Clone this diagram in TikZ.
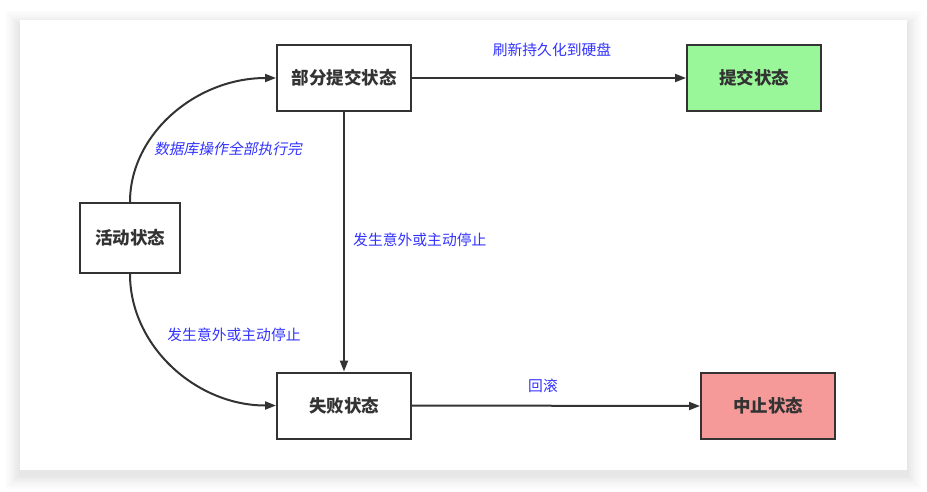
\documentclass[tikz,border=0pt]{standalone}
\usepackage{fontspec}
\setmainfont{Noto Sans CJK SC}
\newfontfamily\cjkit[FakeSlant=0.2]{Noto Sans CJK SC}
\usetikzlibrary{arrows.meta}
\definecolor{lineg}{HTML}{333333}
\definecolor{lblue}{HTML}{3333FF}
\definecolor{okgreen}{HTML}{99F799}
\definecolor{badred}{HTML}{F59999}
\tikzset{
  state/.style={draw=lineg, line width=2pt, minimum width=134pt, minimum height=66pt, inner sep=0pt,
    font=\fontsize{17.5}{19}\selectfont\bfseries, text=lineg},
  conn/.style={draw=lineg, line width=2pt, -{Triangle[length=11pt,width=8pt]}},
  lbl/.style={font=\fontsize{14.8}{16}\selectfont, text=lblue, inner sep=0pt}
}
\begin{document}
\begin{tikzpicture}[x=1pt,y=-1pt]
\useasboundingbox (0,0) rectangle (927,491);
\fill[white] (0,0) rectangle (927,491);
% card shadow
\foreach \d in {14,11,8,6,4,2}{
  \fill[black, opacity=0.014] (20-\d,20-\d+5) rectangle (907+\d,470+\d+5);
}
\fill[white] (20,20) rectangle (907,470);

\node[state] (partial) at (344,78) {部分提交状态};
\node[state, fill=okgreen] (commit) at (754,78) {提交状态};
\node[state, minimum width=100pt, minimum height=70pt] (active) at (130,238) {活动状态};
\node[state] (fail) at (344,405.5) {失败状态};
\node[state, fill=badred] (abort) at (768,406) {中止状态};

\draw[conn] (active.north) .. controls (130,134) and (196,78) .. (partial.west);
\draw[conn] (active.south) .. controls (130,346) and (196,405.5) .. (fail.west);
\draw[conn] (partial.south) -- (fail.north);
\draw[conn] (partial.east) -- (commit.west);
\draw[conn] (fail.east) -- (abort.west);

\node[lbl, font=\fontsize{14.8}{16}\selectfont\cjkit] (l1) at (228,149) {数据库操作全部执行完};
\node[lbl] (l2) at (234,335) {发生意外或主动停止};
\node[lbl, anchor=west] (l3) at (353,240) {发生意外或主动停止};
\node[lbl] (l4) at (552,50) {刷新持久化到硬盘};
\node[lbl] (l5) at (543,386) {回滚};
\end{tikzpicture}
\end{document}
